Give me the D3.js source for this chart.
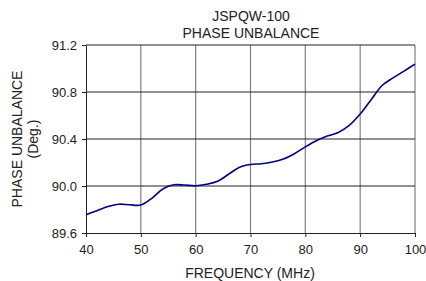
<!DOCTYPE html>
<html>
<head>
<meta charset="utf-8">
<script src="https://cdn.jsdelivr.net/npm/d3@7"></script>
<style>
  body { margin: 0; background: #fff; }
  text { font-family: "Liberation Sans", Arial, sans-serif; fill: #222; }
</style>
</head>
<body>
<svg id="chart" width="426" height="281"></svg>
<script>
// values
var freq = [40,42,44,46,48,50,52,54,56,58,60,62,64,66,68,70,72,74,76,78,80,82,84,86,88,90,92,94,96,98,100];
var unbal = [89.755,89.79,89.825,89.845,89.84,89.838,89.895,89.975,90.01,90.008,90.002,90.015,90.04,90.1,90.16,90.183,90.19,90.205,90.23,90.275,90.333,90.385,90.425,90.455,90.515,90.612,90.735,90.855,90.92,90.978,91.037];
var xTicks = [40,50,60,70,80,90,100];
var yTicks = [89.6,90.0,90.4,90.8,91.2];
var titleLines = ["JSPQW-100","PHASE UNBALANCE"];
var yTitle = ["PHASE UNBALANCE","(Deg.)"];
var xTitle = "FREQUENCY (MHz)";

var svg = d3.select("#chart"),
    pLeft = 86, pRight = 415, pTop = 45, pBottom = 233;

var x = d3.scaleLinear().domain([40,100]).range([pLeft,pRight]);
var y = d3.scaleLinear().domain([89.6,91.2]).range([pBottom,pTop]);

// grid: vertical gray, horizontal black
svg.append("g").selectAll("line").data(xTicks.slice(1)).enter().append("line")
  .attr("x1", d => x(d)).attr("x2", d => x(d)).attr("y1", pTop).attr("y2", pBottom)
  .attr("stroke", "#808080").attr("stroke-width", 1.2);
svg.append("g").selectAll("line").data(yTicks.slice(1)).enter().append("line")
  .attr("x1", pLeft).attr("x2", pRight).attr("y1", d => y(d)).attr("y2", d => y(d))
  .attr("stroke", "#222").attr("stroke-width", 1);

var xAxis = svg.append("g").attr("transform", "translate(0," + pBottom + ")")
  .call(d3.axisBottom(x).tickValues(xTicks).tickSize(4).tickSizeOuter(0).tickFormat(d3.format("d")));
var yAxis = svg.append("g").attr("transform", "translate(" + pLeft + ",0)")
  .call(d3.axisLeft(y).tickValues(yTicks).tickSize(4).tickSizeOuter(0).tickFormat(d3.format(".1f")));

[xAxis, yAxis].forEach(function (a) {
  a.selectAll("path, line").attr("stroke", "#222");
  a.selectAll("text").attr("font-size", "13px").attr("fill", "#222")
    .attr("font-family", "Liberation Sans, Arial, sans-serif");
});
xAxis.selectAll("text").attr("dy", "1.05em");
yAxis.selectAll("text").attr("x", -9);

var line = d3.line()
  .x(function (d, i) { return x(freq[i]); })
  .y(function (d) { return y(d); })
  .curve(d3.curveCatmullRom.alpha(0.5));

svg.append("path").datum(unbal).attr("d", line)
  .attr("fill", "none").attr("stroke", "#000080").attr("stroke-width", 1.6);

svg.selectAll(".title").data(titleLines).enter().append("text").attr("class", "title")
  .attr("x", 251).attr("y", function (d, i) { return 21 + i * 16.5; })
  .attr("text-anchor", "middle").attr("font-size", "14px").text(function (d) { return d; });

svg.selectAll(".ytitle").data(yTitle).enter().append("text").attr("class", "ytitle")
  .attr("transform", function (d, i) { return "translate(" + (21.5 + i * 16.5) + ",139) rotate(-90)"; })
  .attr("text-anchor", "middle").attr("font-size", "14px").text(function (d) { return d; });

svg.append("text").attr("x", 250).attr("y", 278).attr("text-anchor", "middle")
  .attr("font-size", "14px").text(xTitle);
</script>
</body>
</html>
